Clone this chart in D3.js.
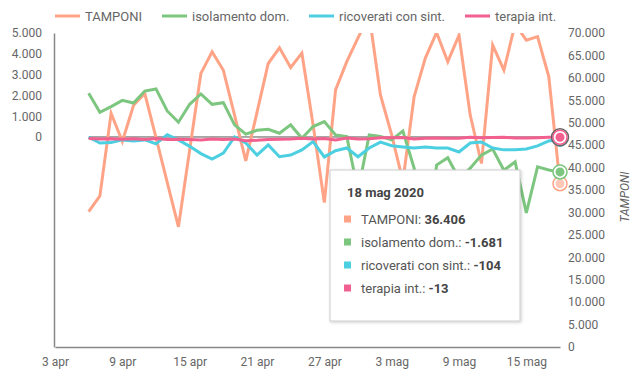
<!DOCTYPE html>
<html>
<head>
<meta charset="utf-8">
<script src="https://cdn.jsdelivr.net/npm/d3@7"></script>
<style>
  body { margin: 0; background: #fff; font-family: Roboto, "Noto Sans", sans-serif; }
  #chart { width: 637px; height: 380px; }
</style>
</head>
<body>
<div id="chart"></div>
<script>
// daily changes, 6 apr - 18 mag 2020
const dates = ["2020-04-06","2020-04-07","2020-04-08","2020-04-09","2020-04-10","2020-04-11","2020-04-12",
  "2020-04-13","2020-04-14","2020-04-15","2020-04-16","2020-04-17","2020-04-18","2020-04-19","2020-04-20",
  "2020-04-21","2020-04-22","2020-04-23","2020-04-24","2020-04-25","2020-04-26","2020-04-27","2020-04-28",
  "2020-04-29","2020-04-30","2020-05-01","2020-05-02","2020-05-03","2020-05-04","2020-05-05","2020-05-06",
  "2020-05-07","2020-05-08","2020-05-09","2020-05-10","2020-05-11","2020-05-12","2020-05-13","2020-05-14",
  "2020-05-15","2020-05-16","2020-05-17","2020-05-18"]
const tamponi = [30200,33700,52100,45800,53900,56500,46700,36700,26800,43900,61000,65800,61700,51700,41500,
  52300,63200,66700,62300,65500,49500,32200,57300,63600,68900,74000,56200,47300,37000,55800,64400,70100,
  63600,69500,51700,40900,67300,61700,72000,68400,69200,60300,36406]
const isolamento = [2100,1190,1460,1760,1630,2210,2310,1250,710,1570,2070,1570,1650,580,140,320,370,180,580,
  -60,500,740,100,20,-2600,100,30,-140,290,-1500,-6300,-1350,-1000,-2000,-1500,-870,-580,-1600,-1200,-3650,
  -1440,-1590,-1681]
const ricoverati = [-10,-290,-270,-140,-190,-140,-330,110,-140,-450,-800,-1060,-780,0,-290,-870,-380,-950,-870,
  -620,-220,-960,-660,-530,-950,-530,-250,-420,-480,-530,-480,-530,-530,-720,-290,-240,-530,-620,-620,-580,
  -430,-190,-104]
const terapia = [-79,-99,-88,-109,-88,-116,-74,-127,-106,-116,-143,-102,-124,-102,-176,-162,-124,-105,-100,-61,
  -93,-75,-146,-50,-101,-83,-40,-39,-22,-94,-66,-50,-62,-57,-19,-39,-22,-15,-47,-55,-32,-13,-13]

const seriesNames = ["TAMPONI", "isolamento dom.", "ricoverati con sint.", "terapia int."]
const colors = ["#ffa386", "#7dc67f", "#4ccfe0", "#f2608f"]
const xTicks = ["2020-04-03","2020-04-09","2020-04-15","2020-04-21","2020-04-27","2020-05-03","2020-05-09","2020-05-15"]
const monthNames = ["gen","feb","mar","apr","mag","giu","lug","ago","set","ott","nov","dic"]
const leftTicks = [0, 1000, 2000, 3000, 4000, 5000]
const rightTicks = [0,5000,10000,15000,20000,25000,30000,35000,40000,45000,50000,55000,60000,65000,70000]

const parse = d3.utcParse("%Y-%m-%d")
const days = dates.map(parse)

const it = d3.formatLocale({decimal: ",", thousands: ".", grouping: [3], currency: ["€", ""], minus: "-"})
const fmt = it.format(",d")
const dayLabel = d => d.getUTCDate() + " " + monthNames[d.getUTCMonth()]

const width = 637, height = 380
const svg = d3.select("#chart").append("svg").attr("width", width).attr("height", height)

const x = d3.scaleUtc().domain([parse("2020-04-03"), parse("2020-05-18")]).range([55, 560])
const yL = d3.scaleLinear().domain([-10100, 5000]).range([347, 33])
const yR = d3.scaleLinear().domain([0, 70000]).range([347, 33])

// legend
const legend = svg.append("g")
const legendX = [55, 162, 309, 465]
seriesNames.forEach((name, i) => {
  const g = legend.append("g").attr("transform", `translate(${legendX[i]},16)`)
  g.append("line").attr("x1", 0).attr("x2", 25).attr("stroke", colors[i]).attr("stroke-width", 3)
  g.append("text").attr("x", 30).attr("dy", "0.35em").attr("fill", "#666").style("font-size", "13px").text(name)
})

// axes
const axL = svg.append("g").attr("transform", "translate(54,0)")
  .call(d3.axisLeft(yL).tickValues(leftTicks).tickFormat(fmt).tickSize(0).tickPadding(12))
const axR = svg.append("g").attr("transform", "translate(560,0)")
  .call(d3.axisRight(yR).tickValues(rightTicks).tickFormat(fmt).tickSize(0).tickPadding(8))
const axB = svg.append("g").attr("transform", "translate(0,347)")
  .call(d3.axisBottom(x).tickValues(xTicks.map(parse)).tickFormat(dayLabel).tickSize(0).tickPadding(10))
axR.select(".domain").remove()
;[axL, axR, axB].forEach(a => {
  a.selectAll("text").attr("fill", "#666").style("font-size", "12px").style("font-family", "Roboto, sans-serif")
  a.select(".domain").attr("stroke", "#888").attr("stroke-width", 1.5)
})

svg.append("text")
  .attr("transform", "translate(629,197) rotate(-90)")
  .attr("text-anchor", "middle").attr("fill", "#666")
  .style("font-size", "12px").style("font-style", "italic")
  .text("TAMPONI")

// zero line
svg.append("line")
  .attr("x1", x(days[0])).attr("x2", x(days[days.length - 1]))
  .attr("y1", yL(0)).attr("y2", yL(0))
  .attr("stroke", "#555").attr("stroke-width", 1)

svg.append("clipPath").attr("id", "clip").append("rect")
  .attr("x", 54).attr("y", 33).attr("width", 507).attr("height", 314)

const plot = svg.append("g").attr("clip-path", "url(#clip)")
const series = [
  {vals: tamponi, y: yR},
  {vals: isolamento, y: yL},
  {vals: ricoverati, y: yL},
  {vals: terapia, y: yL}
]
series.forEach((s, i) => {
  const line = d3.line().x((d, j) => x(days[j])).y(d => s.y(d))
  plot.append("path").datum(s.vals)
    .attr("d", line).attr("fill", "none")
    .attr("stroke", colors[i]).attr("stroke-width", 3).attr("stroke-linejoin", "miter")
})

// hovered points at the last day
const last = days.length - 1
;[0, 1, 2, 3].forEach(i => {
  const cx = x(days[last]), cy = series[i].y(series[i].vals[last])
  if (i == 3) {
    svg.append("circle").attr("cx", cx).attr("cy", cy).attr("r", 8.5)
      .attr("fill", "none").attr("stroke", "#666").attr("stroke-width", 1.5)
  }
  svg.append("circle").attr("cx", cx).attr("cy", cy).attr("r", 7)
    .attr("fill", "#fff").attr("stroke", colors[i]).attr("stroke-width", 1.5)
  svg.append("circle").attr("cx", cx).attr("cy", cy).attr("r", 4.5)
    .attr("fill", colors[i]).attr("opacity", i == 0 ? 0.6 : 1)
})

// tooltip
const tip = svg.append("g").attr("transform", "translate(330,170)")
const defs = svg.append("defs")
const f = defs.append("filter").attr("id", "shadow").attr("x", "-10%").attr("y", "-10%").attr("width", "130%").attr("height", "130%")
f.append("feDropShadow").attr("dx", 1).attr("dy", 1).attr("stdDeviation", 1.5).attr("flood-color", "#000").attr("flood-opacity", 0.2)
tip.append("rect").attr("width", 190).attr("height", 151)
  .attr("fill", "#fff").attr("stroke", "#ccc").attr("filter", "url(#shadow)")
tip.append("text").attr("x", 17).attr("y", 22).attr("dy", "0.35em")
  .attr("fill", "#444").style("font-size", "13px").style("font-weight", "bold")
  .text(days[last].getUTCDate() + " " + monthNames[days[last].getUTCMonth()] + " " + days[last].getUTCFullYear())
seriesNames.forEach((name, i) => {
  const row = tip.append("g").attr("transform", `translate(0,${49 + i * 23})`)
  row.append("rect").attr("x", 14).attr("y", -3.5).attr("width", 7).attr("height", 7).attr("fill", colors[i])
  const t = row.append("text").attr("x", 31).attr("dy", "0.35em").attr("fill", "#555").style("font-size", "13px")
  t.append("tspan").text(name + ": ")
  t.append("tspan").style("font-weight", "bold").attr("fill", "#444").text(fmt(series[i].vals[last]))
})
</script>
</body>
</html>
